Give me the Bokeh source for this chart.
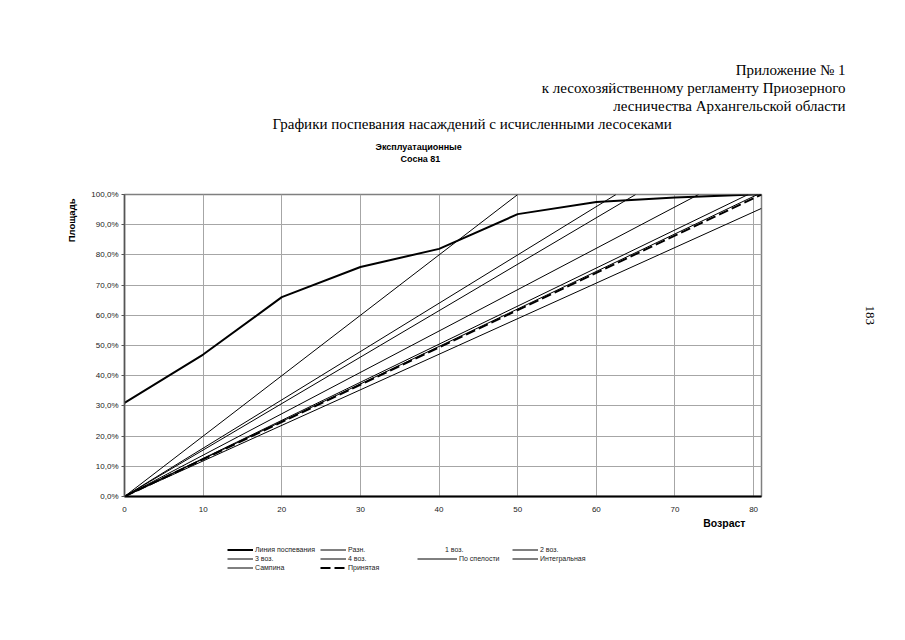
from bokeh.plotting import figure
from bokeh.layouts import column
from bokeh.models import (Range1d, FixedTicker, CustomJSTickFormatter, Title,
                          Legend, LegendItem)
from bokeh.embed import file_html
from bokeh.resources import INLINE

# ---------------- data ----------------
age_curve = [0, 10, 20, 30, 40, 50, 60, 70, 80, 81]
pct_curve = [31.0, 47.0, 66.0, 76.0, 82.0, 93.5, 97.5, 99.0, 100.0, 100.0]

razn_x = [0, 73.0];       razn_y = [0, 100.0]
voz1_x = [];              voz1_y = []
voz2_x = [0, 50.0];       voz2_y = [0, 100.0]
voz3_x = [0, 62.5];       voz3_y = [0, 100.0]
voz4_x = [0, 65.0];       voz4_y = [0, 100.0]
spel_x = [0, 79.3];       spel_y = [0, 100.0]
integ_x = [0, 80.5];      integ_y = [0, 100.0]
samp_x = [0, 81.0];       samp_y = [0, 95.4]
prin_x = [0, 81.0];       prin_y = [0, 100.0]

x_ticks = [0, 10, 20, 30, 40, 50, 60, 70, 80]
y_ticks = [0, 10, 20, 30, 40, 50, 60, 70, 80, 90, 100]

SERIES = [  # (legend label, x, y, style)
    ("Линия поспевания", age_curve, pct_curve, "curve"),
    ("Разн.", razn_x, razn_y, "thin"),
    ("1 воз.", voz1_x, voz1_y, "none"),
    ("2 воз.", voz2_x, voz2_y, "thin"),
    ("3 воз.", voz3_x, voz3_y, "thin"),
    ("4 воз.", voz4_x, voz4_y, "thin"),
    ("По спелости", spel_x, spel_y, "thin"),
    ("Интегральная", integ_x, integ_y, "thin"),
    ("Сампина", samp_x, samp_y, "thin"),
    ("Принятая", prin_x, prin_y, "dash"),
]

STYLES = {
    "curve": dict(line_color="black", line_width=2),
    "thin": dict(line_color="black", line_width=1),
    "none": dict(line_color="black", line_width=1, line_alpha=0),
    "dash": dict(line_color="black", line_width=2, line_dash="10 4"),
}

# ---------------- main figure ----------------
W, H1, H2 = 889, 530, 50
FL, FT, FR, FB = 124, 194, 761, 496   # frame edges in picture px
p = figure(width=W, height=H1, output_backend="svg", toolbar_location=None,
           x_range=Range1d(0, 81), y_range=Range1d(0, 100),
           min_border_left=FL, min_border_right=W - FR,
           min_border_top=FT, min_border_bottom=H1 - FB)
p.background_fill_color = "white"
p.border_fill_color = "white"
p.outline_line_color = "#7f7f7f"
p.outline_line_width = 1.5

p.xgrid.ticker = FixedTicker(ticks=x_ticks)
p.ygrid.ticker = FixedTicker(ticks=y_ticks)
p.xgrid.grid_line_color = "#a6a6a6"
p.ygrid.grid_line_color = "#a6a6a6"

fmt = CustomJSTickFormatter(code="return tick.toFixed(1).replace('.', ',') + '%';")
p.yaxis.ticker = FixedTicker(ticks=y_ticks)
p.yaxis.formatter = fmt
p.xaxis.ticker = FixedTicker(ticks=x_ticks)
for ax in (p.xaxis, p.yaxis):
    ax.major_label_text_font = "Liberation Sans"
    ax.major_label_text_font_size = "8px"
    ax.major_label_text_color = "#222222"
    ax.minor_tick_line_color = None
p.xaxis.axis_line_color = "black"
p.xaxis.axis_line_width = 2
p.xaxis.major_tick_line_color = None
p.xaxis.major_label_standoff = 4
p.yaxis.axis_line_color = "#555555"
p.yaxis.axis_line_width = 1.5
p.yaxis.major_tick_line_color = "#555555"
p.yaxis.major_tick_out = 3
p.yaxis.major_tick_in = 0
p.yaxis.major_label_standoff = 3

for name, xs, ys, st in SERIES:
    if st != "none":
        p.line(xs, ys, **STYLES[st])

# ---------------- titles (side panels) ----------------
SANS, SERIF = "Liberation Sans", "Liberation Serif"

def title(text, where, size, align="left", offset=0, standoff=0,
          font=SERIF, bold=False, valign="bottom"):
    p.add_layout(Title(text=text, align=align, offset=offset, standoff=standoff,
                       vertical_align=valign, text_font=font, text_font_size=size,
                       text_font_style="bold" if bold else "normal",
                       text_color="black"), where)

def spacer(where, standoff):
    p.add_layout(Title(text=" ", text_font_size="1px", standoff=standoff), where)

# above: stacked outward from the frame
spacer("above", 28)
title("Сосна 81", "above", "9px", align="left", offset=400 - FL, font=SANS, bold=True)
title("Эксплуатационные", "above", "9px", align="left", offset=375 - FL,
      font=SANS, bold=True)
spacer("above", 5)
title("Графики поспевания насаждений с исчисленными лесосеками", "above", "15px",
      align="left", offset=272 - FL)
title("лесничества Архангельской области", "above", "15px",
      align="right", offset=FR - 845)
title("к лесохозяйственному регламенту Приозерного", "above", "15px",
      align="right", offset=FR - 845)
title("Приложение № 1", "above", "15px", align="right", offset=FR - 845)

title("Площадь", "left", "9.5px", align="right", offset=4, standoff=24,
      font=SANS, bold=True)
spacer("right", 101)
title("183", "right", "13px", align="left", offset=305 - FT)
title("Возраст", "below", "10.5px", align="right", offset=FR - 745,
      font=SANS, bold=True)

# ---------------- legend strip (same series, drawn off-range) ----------------
pl = figure(width=W, height=H2, output_backend="svg", toolbar_location=None,
            x_range=Range1d(-2, -1), y_range=Range1d(-2, -1),
            x_axis_location=None, y_axis_location=None,
            min_border_left=0, min_border_right=0, min_border_top=0,
            min_border_bottom=0)
pl.outline_line_color = None
pl.grid.visible = False
rend = {name: pl.line(xs, ys, **STYLES[st]) for name, xs, ys, st in SERIES}

LG_TOP, ROW = 544.5, 9
PL_BOTTOM = H1 + H2

def legend_block(names, left, top, glyph_w):
    bottom = top + ROW * len(names)
    lg = Legend(items=[LegendItem(label=n, renderers=[rend[n]]) for n in names],
                location=(left - FL, PL_BOTTOM - bottom), orientation="vertical",
                padding=0, margin=0, spacing=0,
                glyph_width=glyph_w, glyph_height=ROW, label_height=ROW,
                label_standoff=2, label_text_font=SANS, label_text_font_size="7px",
                label_text_color="#222222", border_line_color=None,
                background_fill_alpha=0)
    pl.add_layout(lg, "center")

legend_block(["Линия поспевания", "3 воз.", "Сампина"], 227, LG_TOP, 26)
legend_block(["Разн.", "4 воз.", "Принятая"], 320, LG_TOP, 26)
legend_block(["1 воз."], 417, LG_TOP, 26)
legend_block(["По спелости"], 417, LG_TOP + ROW, 40)
legend_block(["2 воз.", "Интегральная"], 512, LG_TOP, 26)

layout = column(p, pl, spacing=0)
open("out.html", "w").write(file_html(layout, INLINE))
